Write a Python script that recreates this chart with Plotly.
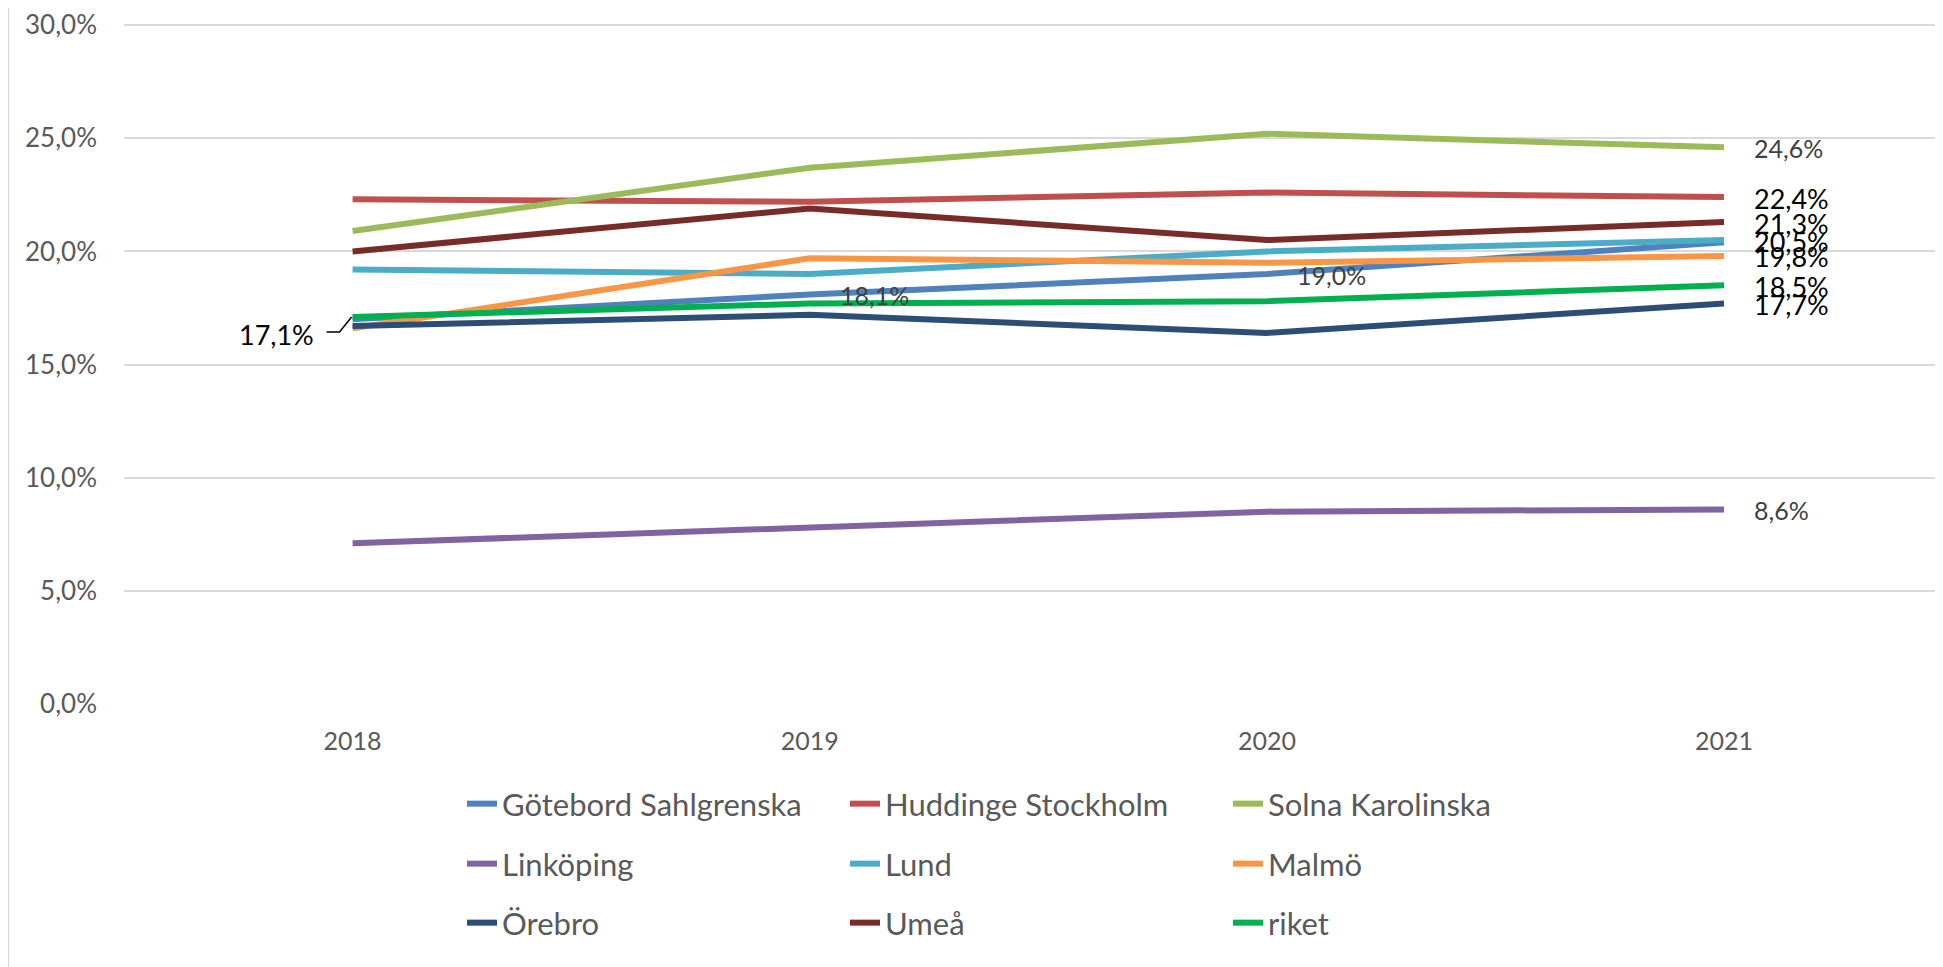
import plotly.graph_objects as go

years = ["2018", "2019", "2020", "2021"]

goteborg = [17.0, 18.1, 19.0, 20.4]
huddinge = [22.3, 22.2, 22.6, 22.4]
solna = [20.9, 23.7, 25.2, 24.6]
linkoping = [7.1, 7.8, 8.5, 8.6]
lund = [19.2, 19.0, 20.0, 20.5]
malmo = [16.6, 19.7, 19.5, 19.8]
orebro = [16.7, 17.2, 16.4, 17.7]
umea = [20.0, 21.9, 20.5, 21.3]
riket = [17.1, 17.7, 17.8, 18.5]

y_ticks = [0, 5, 10, 15, 20, 25, 30]

series = [
    ("Götebord Sahlgrenska", goteborg, "#4F81BD", "legend"),
    ("Huddinge Stockholm", huddinge, "#C0504D", "legend"),
    ("Solna Karolinska", solna, "#9BBB59", "legend"),
    ("Linköping", linkoping, "#8064A2", "legend2"),
    ("Lund", lund, "#4BACC6", "legend2"),
    ("Malmö", malmo, "#F79646", "legend2"),
    ("Örebro", orebro, "#2C4D75", "legend3"),
    ("Umeå", umea, "#772C2A", "legend3"),
    ("riket", riket, "#00B050", "legend3"),
]

# data labels: (series values, year index, style)
right_labels = [
    (solna, 3, "grey"),
    (huddinge, 3, "black"),
    (umea, 3, "black"),
    (lund, 3, "black"),
    (malmo, 3, "black"),
    (riket, 3, "black"),
    (orebro, 3, "black"),
    (linkoping, 3, "grey"),
    (goteborg, 1, "grey"),
    (goteborg, 2, "grey"),
]
left_label = (riket, 0)

FONT = "Lato"
W, H = 1935, 959  # page body has an 8px margin


def fmt(v):
    return f"{v:.1f}".replace(".", ",") + "%"


fig = go.Figure()
for name, vals, color, leg in series:
    fig.add_trace(go.Scatter(
        x=years, y=vals, name=name, mode="lines",
        line=dict(color=color, width=6),
        legend=leg,
    ))

annotations = []
for vals, i, style in right_labels:
    annotations.append(dict(
        x=i, y=vals[i], xref="x", yref="y", text=fmt(vals[i]),
        showarrow=False, xanchor="left", yanchor="middle", xshift=28, yshift=-1,
        font=dict(family=FONT, size=27 if style == "black" else 25,
                  color="#000000" if style == "black" else "#404040"),
    ))
lv, li = left_label
annotations.append(dict(
    x=li, y=lv[li], xref="x", yref="y", text=fmt(lv[li]),
    showarrow=False, xanchor="right", yanchor="middle", xshift=-37, yshift=-17,
    font=dict(family=FONT, size=27, color="#000000"),
))

shapes = [
    # leader line for left label
    dict(type="path", xref="x", yref="y", xsizemode="pixel", ysizemode="pixel",
         xanchor=li, yanchor=lv[li], path="M -26,-15 L -13,-15 L -1,0",
         line=dict(color="#000000", width=1.5)),
    # chart area left border
    dict(type="line", xref="paper", yref="paper",
         x0=-0.0638, x1=-0.0638, y0=-0.4, y1=1.05,
         line=dict(color="#D9D9D9", width=2.5)),
]

leg_common = dict(
    orientation="h", xref="container", yref="container",
    xanchor="left", yanchor="middle",
    font=dict(family=FONT, size=31, color="#595959"),
    entrywidth=338, entrywidthmode="pixels",
    bgcolor="rgba(0,0,0,0)", borderwidth=0,
)
LX = 454 / W

fig.update_layout(
    width=W, height=H,
    margin=dict(l=116, r=0, t=14, b=263),
    paper_bgcolor="white", plot_bgcolor="white",
    separators=", ",
    showlegend=True,
    legend=dict(x=LX, y=1 - (804 - 8) / H, **leg_common),
    legend2=dict(x=LX, y=1 - (864 - 8) / H, **leg_common),
    legend3=dict(x=LX, y=1 - (923 - 8) / H, **leg_common),
    xaxis=dict(
        type="category", categoryorder="array", categoryarray=years,
        range=[-0.5, 3.479], showgrid=False, zeroline=False, showline=False,
        tickfont=dict(family=FONT, size=25, color="#595959"), ticks="",
        ticklabelstandoff=20,
    ),
    yaxis=dict(
        range=[0, 30.05], tickmode="array", tickvals=y_ticks,
        ticktext=[fmt(v) for v in y_ticks],
        showgrid=True, gridcolor="#D9D9D9", gridwidth=2,
        zeroline=False, showline=False, ticks="",
        tickfont=dict(family=FONT, size=26, color="#595959"),
        ticklabelstandoff=26, ticklabeloverflow="allow",
    ),
    annotations=annotations,
    shapes=shapes,
)

fig.write_html("out.html")
